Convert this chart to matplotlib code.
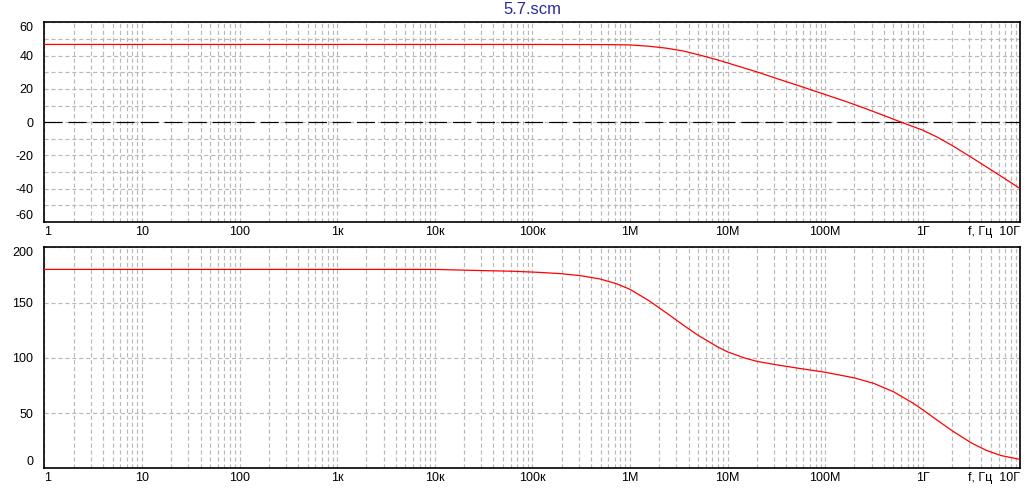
import matplotlib
matplotlib.use("Agg")
import matplotlib.pyplot as plt
from matplotlib.ticker import FixedLocator, NullFormatter, LogLocator

# ---- data ----
gain_freq = [1, 1e5, 6e5, 1e6, 1.58e6, 2.4e6, 3.5e6, 5.2e6, 7.7e6, 1e7, 2e7,
             3.16e7, 5e7, 1e8, 1.58e8, 2.5e8, 4e8, 6e8, 1e9, 1.41e9, 2e9,
             3.16e9, 4.47e9, 6.31e9, 1e10]
gain_db = [46.7, 46.7, 46.6, 46.4, 45.6, 44.4, 42.8, 40.3, 37.6, 35.6, 30.2,
           26.3, 22.5, 16.6, 12.7, 8.5, 4.0, 0.0, -4.8, -9.0, -14.0,
           -21.2, -26.8, -32.4, -40.0]

phase_freq = [1, 1e4, 2e4, 6.4e4, 1.12e5, 1.92e5, 3.07e5, 4.9e5, 7.2e5, 1e6,
              1.58e6, 2.51e6, 3.55e6, 5.01e6, 7.94e6, 1e7, 1.5e7, 2e7, 3e7,
              5.01e7, 1e8, 2e8, 3.16e8, 5.01e8, 7.94e8, 1e9, 1.41e9, 2e9,
              3.16e9, 4.47e9, 6.31e9, 1e10]
phase_deg = [180.0, 180.0, 179.3, 178.3, 177.4, 176.2, 174.4, 171.4, 167.2, 162.0,
             151.5, 139.0, 129.4, 120.3, 109.8, 105.4, 99.8, 96.8, 94.0,
             90.9, 86.9, 81.8, 76.8, 69.3, 59.0, 53.0, 43.5, 34.0,
             22.9, 16.3, 11.6, 8.0]

x_ticks = [1, 10, 100, 1e3, 1e4, 1e5, 1e6, 1e7, 1e8, 1e9, 1e10]
x_labels = ['1', '10', '100', '1к', '10к', '100к', '1M', '10M', '100M', '1Г',
            'f, Гц  10Г']
gain_yticks = [-60, -40, -20, 0, 20, 40, 60]
phase_yticks = [0, 50, 100, 150, 200]
title = '5.7.scm'

# ---- style ----
plt.rcParams['font.family'] = ['Liberation Sans', 'DejaVu Sans']
plt.rcParams['lines.scale_dashes'] = False
FS = 9
GRID = dict(color='#b9b9b9', linestyle=(0, (3, 2)), linewidth=0.85)

W, H = 1028, 493
fig = plt.figure(figsize=(W / 100, H / 100), dpi=100)
fig.patch.set_facecolor('white')

left = 44.3 / W
width = (1020.3 - 44.3) / W
ax1 = fig.add_axes([left, 1 - 222 / H, width, (222 - 22.3) / H])
ax2 = fig.add_axes([left, 1 - 468.3 / H, width, (468.3 - 247.3) / H])


def style_axis(ax, yticks, yminor):
    ax.set_xscale('log')
    ax.set_xlim(1, 1e10)
    ax.set_ylim(yticks[0], yticks[-1])
    ax.set_xticks(x_ticks)
    ax.set_xticklabels(x_labels)
    ax.xaxis.set_minor_locator(LogLocator(base=10, subs=range(2, 10), numticks=100))
    ax.xaxis.set_minor_formatter(NullFormatter())
    ax.set_yticks(yticks)
    ax.set_yticklabels([str(v) for v in yticks])
    ax.yaxis.set_minor_locator(FixedLocator(yminor))
    ax.tick_params(which='both', length=0, labelsize=FS, colors='black')
    ax.tick_params(axis='x', pad=2.8)
    ax.tick_params(axis='y', pad=8)
    ax.grid(True, which='major', axis='both', **GRID)
    ax.grid(True, which='minor', axis='both', **GRID)
    for s in ax.spines.values():
        s.set_linewidth(1.2)
        s.set_color('black')
    xt = ax.xaxis.get_major_ticks()
    xt[0].label1.set_horizontalalignment('left')
    xt[-1].label1.set_horizontalalignment('right')
    yt = ax.yaxis.get_major_ticks()
    yt[0].label1.set_verticalalignment('bottom')
    yt[-1].label1.set_verticalalignment('top')
    ax.set_axisbelow(True)


style_axis(ax1, gain_yticks, list(range(-50, 60, 10)))
style_axis(ax2, phase_yticks, [])

ax1.axhline(0, color='black', linewidth=0.85, linestyle=(0, (13, 4.3)), zorder=2)
ax1.plot(gain_freq, gain_db, color='#ff0000', linewidth=0.9, zorder=3)
ax2.plot(phase_freq, phase_deg, color='#ff0000', linewidth=0.9, zorder=3)

fig.text((44.3 + 1020.3) / 2 / W, 1 - 9.5 / H, title, ha='center', va='center',
         fontsize=12, color='#2a2a9c')

fig.savefig('out.png', dpi=100, facecolor='white')
